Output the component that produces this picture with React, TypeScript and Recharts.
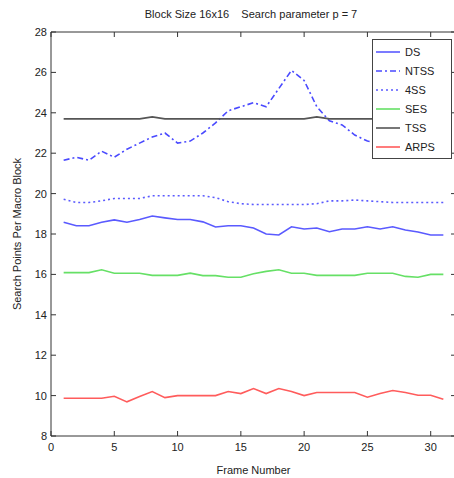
import React from 'react'
import { LineChart, Line, XAxis, YAxis } from 'recharts'

const FRAMES = Array.from({ length: 31 }, (_, i) => i + 1)

const DS = [18.58, 18.41, 18.41, 18.58, 18.7, 18.58, 18.72, 18.89, 18.8, 18.72, 18.72, 18.6, 18.35, 18.41, 18.41, 18.3, 18.0, 17.95, 18.36, 18.25, 18.3, 18.11, 18.25, 18.25, 18.36, 18.25, 18.36, 18.2, 18.1, 17.95, 17.95]
const NTSS = [21.65, 21.8, 21.65, 22.1, 21.8, 22.2, 22.5, 22.8, 23.0, 22.5, 22.6, 23.0, 23.5, 24.1, 24.3, 24.5, 24.3, 25.2, 26.1, 25.6, 24.3, 23.6, 23.4, 22.9, 22.6, 22.5, 22.4, 22.5, 22.4, 22.5, 22.4]
const FSS = [19.72, 19.56, 19.56, 19.64, 19.76, 19.76, 19.76, 19.89, 19.89, 19.89, 19.89, 19.89, 19.8, 19.6, 19.5, 19.46, 19.46, 19.46, 19.46, 19.46, 19.5, 19.64, 19.64, 19.68, 19.64, 19.6, 19.56, 19.56, 19.56, 19.56, 19.56]
const SES = [16.09, 16.09, 16.09, 16.23, 16.06, 16.06, 16.06, 15.95, 15.95, 15.95, 16.06, 15.94, 15.94, 15.86, 15.86, 16.03, 16.15, 16.23, 16.06, 16.06, 15.95, 15.95, 15.95, 15.95, 16.06, 16.06, 16.06, 15.9, 15.86, 16.0, 16.0]
const TSS = [23.7, 23.7, 23.7, 23.7, 23.7, 23.7, 23.7, 23.8, 23.7, 23.7, 23.7, 23.7, 23.7, 23.7, 23.7, 23.7, 23.7, 23.7, 23.7, 23.7, 23.8, 23.7, 23.7, 23.7, 23.7, 23.7, 23.7, 23.7, 23.7, 23.7, 23.7]
const ARPS = [9.87, 9.87, 9.87, 9.87, 9.97, 9.69, 9.95, 10.2, 9.9, 10.0, 10.0, 10.0, 10.0, 10.2, 10.1, 10.35, 10.1, 10.35, 10.2, 10.0, 10.15, 10.15, 10.15, 10.15, 9.92, 10.1, 10.25, 10.15, 10.02, 10.02, 9.82]

const X_TICKS = [0, 5, 10, 15, 20, 25, 30]
const Y_TICKS = [8, 10, 12, 14, 16, 18, 20, 22, 24, 26, 28]

// all four axes share the same domain, so series can sit on either pair
const SERIES = [
  { key: 'DS', color: '#5a5aff', dash: undefined, xId: 'b', yId: 'l' },
  { key: 'NTSS', color: '#4a4aff', dash: '6 3 2 3', xId: 'b', yId: 'l' },
  { key: '4SS', color: '#5a5aff', dash: '2 3', xId: 'b', yId: 'l' },
  { key: 'SES', color: '#66e066', dash: undefined, xId: 't', yId: 'r' },
  { key: 'TSS', color: '#555555', dash: undefined, xId: 't', yId: 'r' },
  { key: 'ARPS', color: '#ff5c5c', dash: undefined, xId: 't', yId: 'r' },
]

const data = FRAMES.map((f, i) => ({
  frame: f,
  DS: DS[i],
  NTSS: NTSS[i],
  '4SS': FSS[i],
  SES: SES[i],
  TSS: TSS[i],
  ARPS: ARPS[i],
}))

const FONT = 'Arial, "Liberation Sans", sans-serif'
const AXIS = '#333'
const tickStyle = { fontSize: 11, fill: '#222', fontFamily: FONT }
const noLabel = () => <g />

function LegendBox() {
  return (
    <div style={{ position: 'absolute', left: 372, top: 39, width: 78, height: 116, border: '1px solid #444', background: '#fff', paddingTop: 2 }}>
      {SERIES.map((s) => (
        <div key={s.key} style={{ height: 19, display: 'flex', alignItems: 'center' }}>
          <svg width={32} height={10} style={{ display: 'block' }}>
            <line x1={3} x2={27} y1={5} y2={5} stroke={s.color} strokeWidth={1.6} strokeDasharray={s.dash} />
          </svg>
          <span style={{ fontSize: 11, fontFamily: FONT, color: '#222' }}>{s.key}</span>
        </div>
      ))}
    </div>
  )
}

export default function App() {
  return (
    <div style={{ position: 'absolute', left: 0, top: 0, width: 454, height: 478, overflow: 'hidden', background: '#fff' }}>
      <div style={{ position: 'absolute', left: 0, width: 502, top: 8, textAlign: 'center', fontSize: 11, fontFamily: FONT, color: '#222', whiteSpace: 'pre' }}>
        {'Block Size 16x16    Search parameter p = 7'}
      </div>
      <LineChart width={460} height={478} data={data} margin={{ top: 30, right: 3, left: 0, bottom: 0 }}>
        <XAxis
          xAxisId="b"
          dataKey="frame"
          type="number"
          domain={[0, 32]}
          ticks={X_TICKS}
          height={42}
          tickSize={-5}
          tickMargin={12}
          stroke={AXIS}
          tick={tickStyle}
          label={{ value: 'Frame Number', position: 'insideBottom', offset: 4, style: { fontSize: 11, fill: '#222', fontFamily: FONT } }}
        />
        <XAxis
          xAxisId="t"
          orientation="top"
          dataKey="frame"
          type="number"
          domain={[0, 32]}
          ticks={X_TICKS}
          height={2}
          tickSize={-5}
          stroke={AXIS}
          tick={noLabel}
        />
        <YAxis
          yAxisId="l"
          domain={[8, 28]}
          ticks={Y_TICKS}
          width={51}
          tickSize={-5}
          tickMargin={9}
          stroke={AXIS}
          tick={tickStyle}
          label={({ viewBox }: any) => (
            <text
              x={18}
              y={viewBox.y + viewBox.height / 2}
              transform={`rotate(-90 18 ${viewBox.y + viewBox.height / 2})`}
              textAnchor="middle"
              dominantBaseline="middle"
              style={{ fontSize: 11, fill: '#222', fontFamily: FONT }}
            >
              Search Points Per Macro Block
            </text>
          )}
        />
        <YAxis
          yAxisId="r"
          orientation="right"
          domain={[8, 28]}
          ticks={Y_TICKS}
          width={1}
          tickSize={-5}
          stroke={AXIS}
          tick={noLabel}
        />
        {SERIES.map((s) => (
          <Line
            key={s.key}
            xAxisId={s.xId}
            yAxisId={s.yId}
            dataKey={s.key}
            type="linear"
            stroke={s.color}
            strokeWidth={1.6}
            strokeDasharray={s.dash}
            dot={false}
            isAnimationActive={false}
          />
        ))}
      </LineChart>
      <LegendBox />
    </div>
  )
}
